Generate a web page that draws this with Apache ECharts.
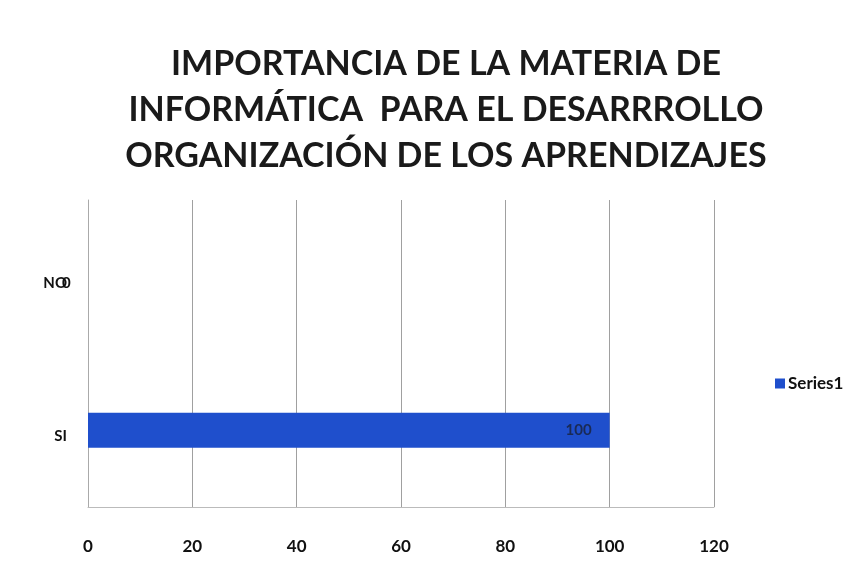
<!DOCTYPE html>
<html><head><meta charset="utf-8">
<script src="https://cdn.jsdelivr.net/npm/echarts@6/dist/echarts.min.js"></script>
<style>html,body{margin:0;padding:0;background:#fff}#c{width:866px;height:580px}</style>
</head><body><div id="c"></div>
<script>
const titleLines = ["IMPORTANCIA DE LA MATERIA DE", "INFORMÁTICA  PARA EL DESARRROLLO", "ORGANIZACIÓN DE LOS APRENDIZAJES"];
const categories = ["SI", "NO"];
const seriesName = "Series1";
const values = [100, 0];
const xTicks = [0, 20, 40, 60, 80, 100, 120];

const chart = echarts.init(document.getElementById('c'));
chart.setOption({
  backgroundColor: '#fff',
  animation: false,
  title: {
    text: titleLines.join('\n'),
    left: 441, top: 36, textAlign: 'center',
    textStyle: { fontFamily: 'Lato', fontWeight: 'bold', fontSize: 34, lineHeight: 46, color: '#1a1a1a' }
  },
  legend: {
    data: [seriesName], orient: 'vertical', left: 770, top: 370,
    itemWidth: 10, itemHeight: 10, itemGap: 4, icon: 'rect',
    textStyle: { fontFamily: 'Lato', fontWeight: 'bold', fontSize: 17, color: '#111', padding: [0, 0, 0, -2] }
  },
  grid: { left: 88, right: 152, top: 200, bottom: 73, containLabel: false },
  xAxis: {
    type: 'value', min: xTicks[0], max: xTicks[xTicks.length - 1], interval: 20,
    axisLine: { show: true, lineStyle: { color: '#bbb' } },
    axisTick: { show: false },
    axisLabel: { margin: 31, fontFamily: 'Lato', fontWeight: 'bold', fontSize: 17, color: '#111' },
    splitLine: { show: true, lineStyle: { color: '#a0a0a0', width: 1 } }
  },
  yAxis: {
    type: 'category', data: categories,
    axisLine: { show: true, lineStyle: { color: '#aaa' } },
    axisTick: { show: false },
    axisLabel: { margin: 21, fontFamily: 'Lato', fontWeight: 'bold', fontSize: 15, color: '#111', verticalAlign: 'top', lineHeight: 12 }
  },
  series: [{
    name: seriesName, type: 'bar', data: values, barWidth: 35,
    itemStyle: { color: '#1f4fcc' },
    label: {
      show: true,
      position: 'insideRight', distance: 18,
      fontFamily: 'Lato', fontWeight: 'bold', fontSize: 15, color: '#1a2a55',
      formatter: function (p) { return p.value; }
    },
    labelLayout: function (p) {
      if (p.dataIndex === 1) { return { x: 62, y: p.rect.y + p.rect.height / 2 + 6, align: 'left', verticalAlign: 'middle' }; }
      return {};
    }
  }]
});
chart.setOption({ series: [{ data: values.map(function (v, i) { return i === 1 ? { value: v, label: { color: '#111' } } : v; }) }] });
</script></body></html>
